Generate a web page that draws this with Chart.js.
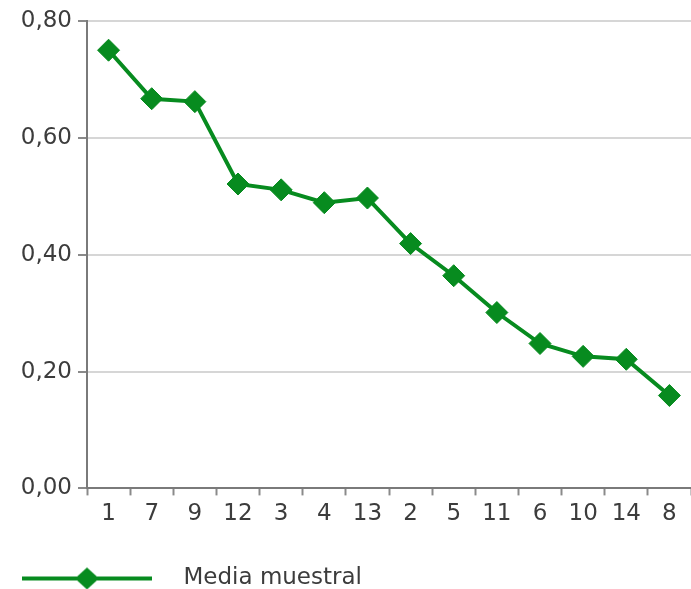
<!DOCTYPE html>
<html>
<head>
<meta charset="utf-8">
<script src="https://cdn.jsdelivr.net/npm/chart.js@4/dist/chart.umd.min.js"></script>
<style>
  html, body { margin: 0; padding: 0; background: #ffffff; overflow: hidden; }
  canvas { display: block; }
</style>
</head>
<body>
<canvas id="mediaCanvas" width="691" height="589"></canvas>
<script>
// categories (in plotted order) and sample means
const categories = ['1', '7', '9', '12', '3', '4', '13', '2', '5', '11', '6', '10', '14', '8'];
const mediaMuestral = [0.750, 0.667, 0.662, 0.521, 0.511, 0.489, 0.497, 0.419, 0.364, 0.301, 0.248, 0.226, 0.221, 0.159];
const yTickLabels = ['0,00', '0,20', '0,40', '0,60', '0,80'];
const seriesLabel = 'Media muestral';

const green = '#078b1f';
const textColor = '#3c3c3c';
const fontFamily = '"DejaVu Sans", Verdana, sans-serif';

// legend symbol: line with a diamond in the middle
function legendSymbol() {
    const c = document.createElement('canvas');
    c.width = 150;
    c.height = 26;
    const ctx = c.getContext('2d');
    ctx.strokeStyle = green;
    ctx.lineWidth = 4;
    ctx.beginPath();
    ctx.moveTo(0, 13);
    ctx.lineTo(130, 13);
    ctx.stroke();
    ctx.fillStyle = green;
    ctx.beginPath();
    ctx.moveTo(65 - 12, 13);
    ctx.lineTo(65, 13 - 11);
    ctx.lineTo(65 + 12, 13);
    ctx.lineTo(65, 13 + 11);
    ctx.closePath();
    ctx.fill();
    return c;
}
const symbol = legendSymbol();

const ctx = document.getElementById('mediaCanvas').getContext('2d');
new Chart(ctx, {
    type: 'line',
    data: {
        labels: categories,
        datasets: [{
            label: seriesLabel,
            data: mediaMuestral,
            borderColor: green,
            backgroundColor: green,
            borderWidth: 4,
            tension: 0,
            fill: false,
            pointStyle: 'rectRot',
            pointRadius: 11,
            pointBorderWidth: 1,
            pointBackgroundColor: green,
            pointBorderColor: green
        }]
    },
    options: {
        responsive: false,
        animation: false,
        layout: { autoPadding: false, padding: { top: 21, left: -12, right: 0, bottom: -11 } },
        plugins: {
            tooltip: { enabled: false },
            legend: {
                display: true,
                position: 'bottom',
                align: 'start',
                labels: {
                    usePointStyle: true,
                    pointStyleWidth: 150,
                    padding: 34,
                    color: textColor,
                    font: { family: fontFamily, size: 23 },
                    generateLabels: function() {
                        return [{
                            text: seriesLabel,
                            pointStyle: symbol,
                            fillStyle: green,
                            strokeStyle: green,
                            fontColor: textColor,
                            lineWidth: 0,
                            hidden: false,
                            datasetIndex: 0
                        }];
                    }
                }
            }
        },
        scales: {
            x: {
                offset: true,
                afterFit: function(scale) {
                    scale.paddingLeft = 0;
                    scale.paddingRight = 0;
                },
                grid: {
                    offset: true,
                    drawOnChartArea: false,
                    drawTicks: true,
                    tickLength: 7,
                    tickColor: '#8a8a8a',
                    tickWidth: 2
                },
                border: { display: true, color: '#7a7a7a', width: 2 },
                ticks: {
                    color: textColor,
                    padding: 5,
                    maxRotation: 0,
                    autoSkip: false,
                    font: { family: fontFamily, size: 23 }
                }
            },
            y: {
                min: 0,
                max: 0.8,
                afterFit: function(scale) { scale.width = 99; },
                grid: {
                    color: '#d6d6d6',
                    lineWidth: 2,
                    drawTicks: true,
                    tickLength: 9,
                    tickColor: '#8a8a8a'
                },
                border: { display: true, color: '#7a7a7a', width: 2 },
                ticks: {
                    stepSize: 0.2,
                    color: textColor,
                    padding: 6,
                    font: { family: fontFamily, size: 23 },
                    callback: function(value, index) {
                        return yTickLabels[index];
                    }
                }
            }
        }
    }
});
</script>
</body>
</html>
